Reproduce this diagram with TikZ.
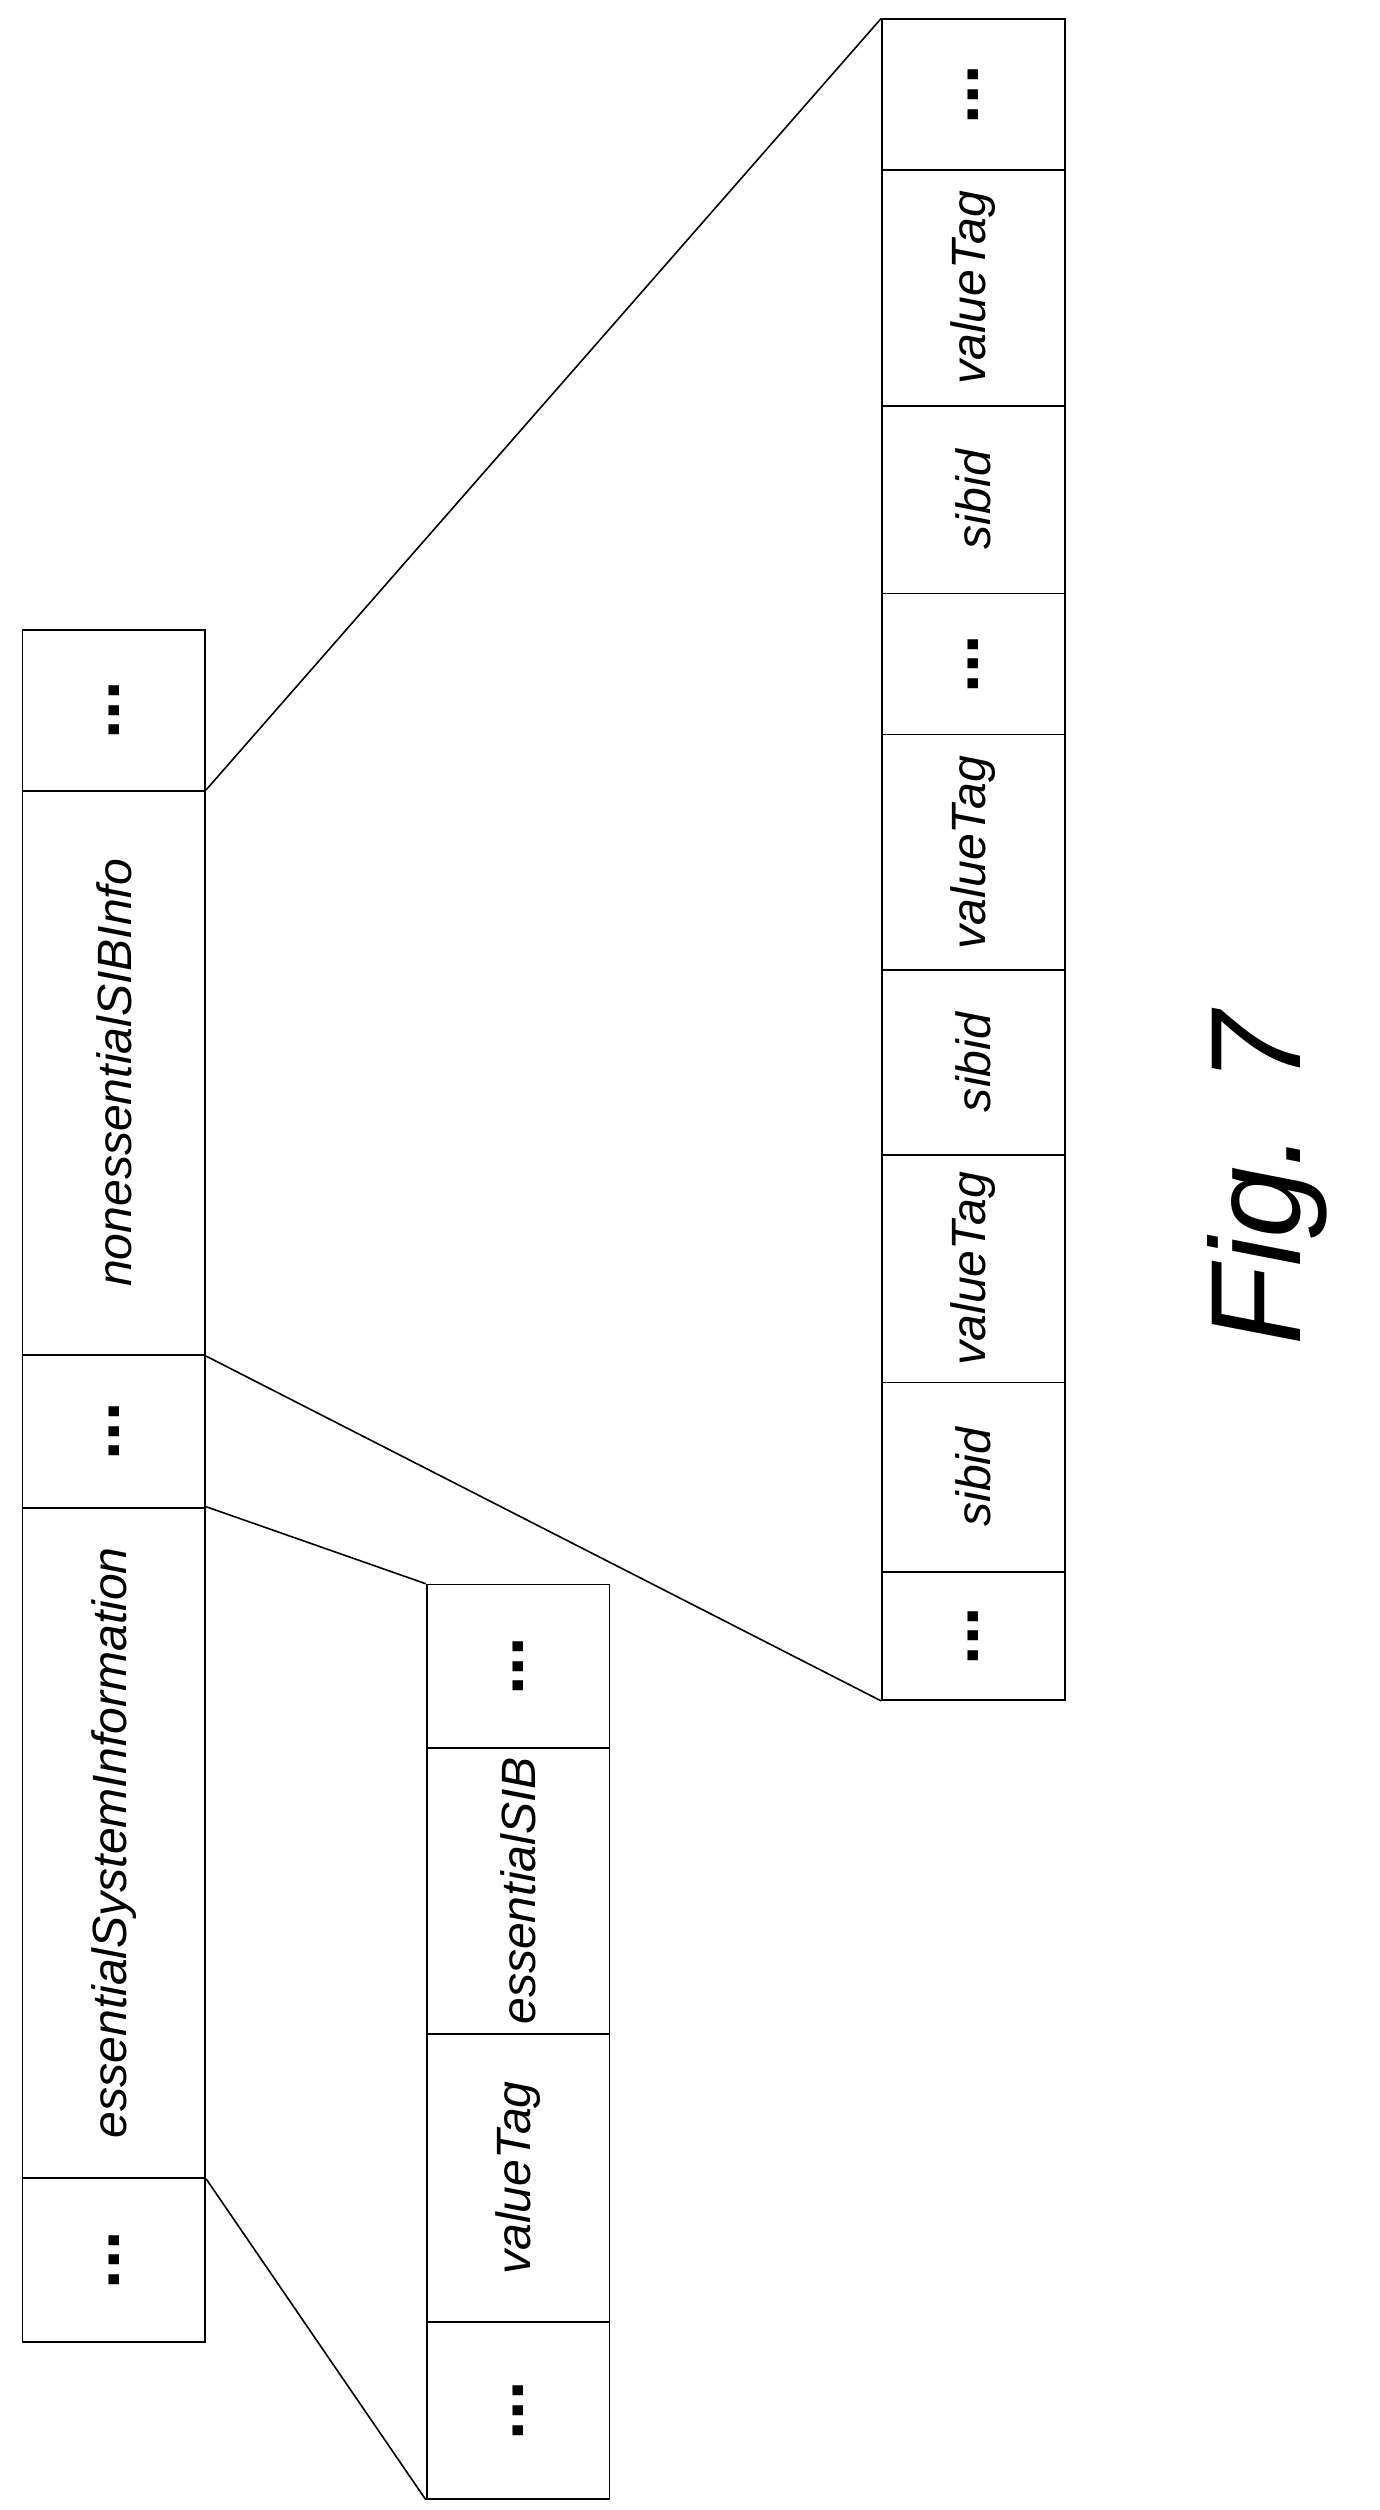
\documentclass[tikz,border=0pt]{standalone}
\usepackage{fontspec}
\setmainfont{Liberation Sans}
\begin{document}
\begin{tikzpicture}[x=1pt,y=1pt]
\tikzset{cell/.style={draw,line width=1.1pt,rotate=90,inner sep=0pt,font=\itshape\fontsize{30}{30}\selectfont},
dots/.style={font=\upshape\bfseries\fontsize{44}{44}\selectfont},
link/.style={line width=1pt}}
\newcommand\mycell[7][]{\pgfmathsetmacro\cw{#5-#3}\pgfmathsetmacro\ch{#6-#4}%
\node[cell,minimum width=\ch pt,minimum height=\cw pt,#1] (#2) at ({(#3+#5)/2},{-(#4+#6)/2}) {#7};}
\useasboundingbox (0,0) rectangle (860,-1565);
% top column
\mycell[dots]{t1}{14}{393}{128}{493}{...}
\mycell{non}{14}{493}{128}{845}{nonessentialSIBInfo}
\mycell[dots]{t3}{14}{845}{128}{940}{...}
\mycell{ess}{14}{940}{128}{1358}{essentialSystemInformation}
\mycell[dots]{t5}{14}{1358}{128}{1460}{...}
% bottom-left column
\mycell[dots]{b4}{266}{988}{380}{1090}{...}
\mycell{b3}{266}{1090}{380}{1268}{essentialSIB}
\mycell{b2}{266}{1268}{380}{1448}{valueTag}
\mycell[dots]{b1}{266}{1448}{380}{1558}{...}
% right column
\mycell[dots]{r1}{550}{12}{664}{106}{...}
\mycell{r2}{550}{106}{664}{253}{valueTag}
\mycell{r3}{550}{253}{664}{370}{sibid}
\mycell[dots]{r4}{550}{370}{664}{458}{...}
\mycell{r5}{550}{458}{664}{605}{valueTag}
\mycell{r6}{550}{605}{664}{720}{sibid}
\mycell{r7}{550}{720}{664}{862}{valueTag}
\mycell{r8}{550}{862}{664}{980}{sibid}
\mycell[dots]{r9}{550}{980}{664}{1060}{...}
% connectors
\draw[link] (ess.south west) -- (b1.north west);
\draw[link] (ess.south east) -- (b4.north east);
\draw[link] (non.south east) -- (r1.north east);
\draw[link] (non.south west) -- (r9.north west);
\node[rotate=90,font=\itshape\fontsize{80}{80}\selectfont] (fig) at (790,-735) {Fig. 7};
\end{tikzpicture}
\end{document}
